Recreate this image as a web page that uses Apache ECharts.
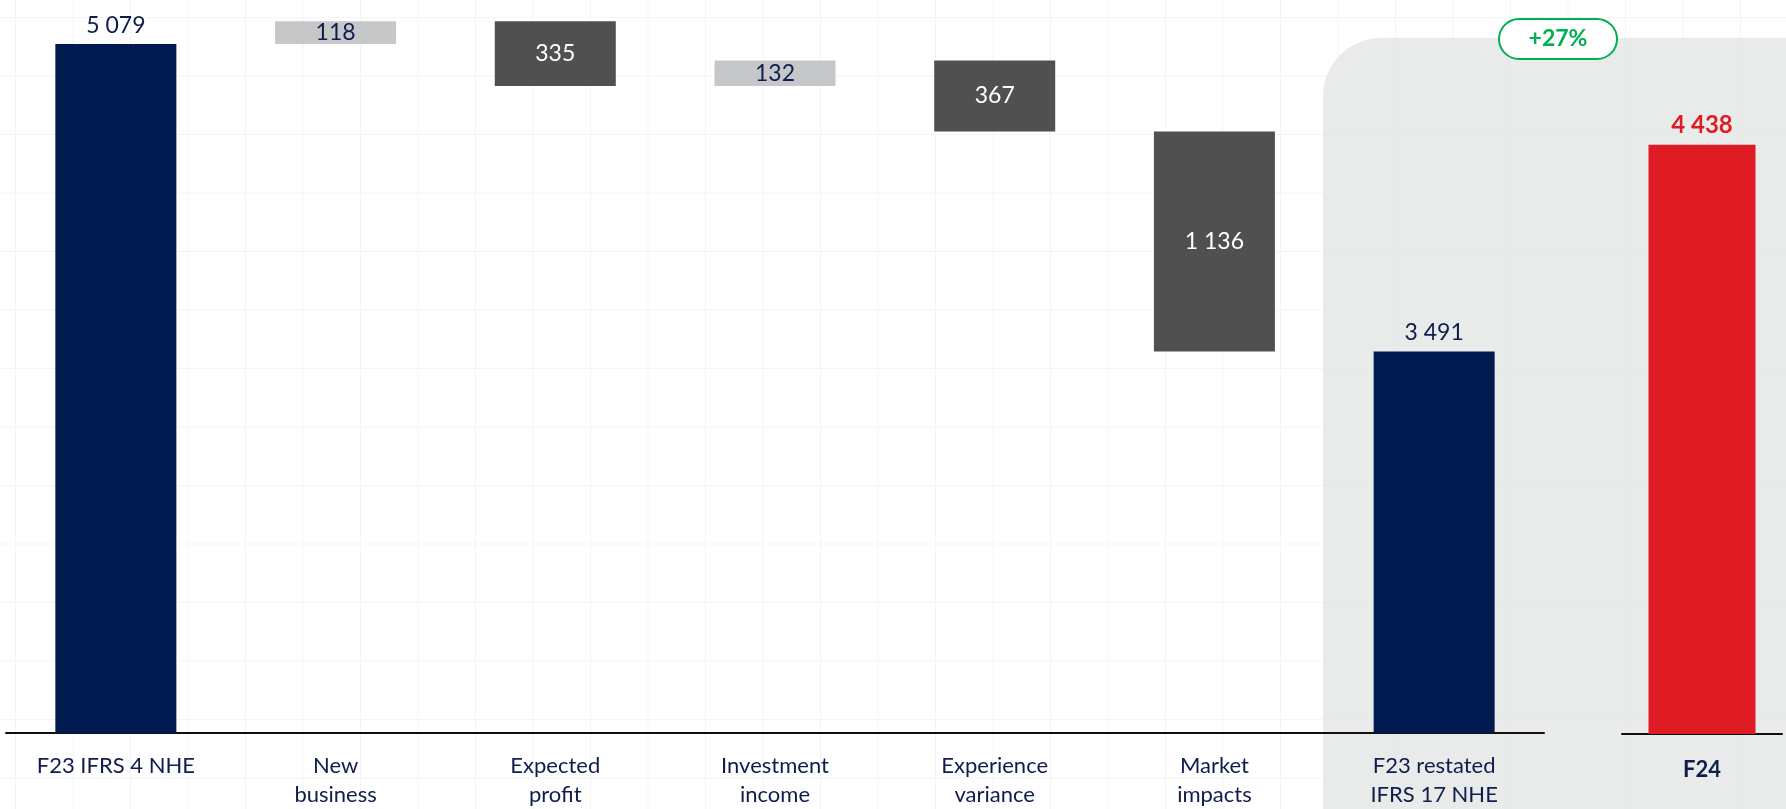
<!DOCTYPE html>
<html>
<head>
<meta charset="utf-8">
<script src="https://cdn.jsdelivr.net/npm/echarts@6/dist/echarts.min.js"></script>
<style>
  html, body { margin: 0; padding: 0; background: #ffffff; }
  #chart {
    width: 1786px; height: 809px;
    background-color: #ffffff;
    background-image:
      linear-gradient(to right, #f3f4f4 1px, transparent 1px),
      linear-gradient(to bottom, #f3f4f4 1px, transparent 1px);
    background-size: 57.5px 58.5px;
    background-position: 15px 17px;
  }
</style>
</head>
<body>
<div id="chart"></div>
<script>
// Bridge from F23 IFRS 4 NHE to F23 restated IFRS 17 NHE, then F24
const bridgeCategories = ['F23 IFRS 4 NHE', 'New\nbusiness', 'Expected\nprofit', 'Investment\nincome', 'Experience\nvariance', 'Market\nimpacts', 'F23 restated\nIFRS 17 NHE'];
const openingValue = 5079;
const stepValues = [118, -335, 132, -367, -1136];
const restatedValue = 3491;
const finalCategory = ['F24'];
const finalValue = 4438;

const NAVY = '#011a4f';
const RED = '#df1c24';
const RISE = '#c6c7c9';
const FALL = '#505050';
const TEXT = '#0e1d4c';
const FONT = 'Lato, "Noto Sans", sans-serif';

const fmt = v => String(Math.round(Math.abs(v))).replace(/\B(?=(\d{3})+(?!\d))/g, ' ');

// Build waterfall pieces: invisible base + visible rise / fall segments
const baseData = ['-'], riseData = ['-'], fallData = ['-'];
let running = openingValue;
stepValues.forEach(s => {
  const next = running + s;
  baseData.push(Math.min(running, next));
  riseData.push(s > 0 ? s : '-');
  fallData.push(s < 0 ? -s : '-');
  running = next;
});
baseData.push('-'); riseData.push('-'); fallData.push('-');
const totalData = bridgeCategories.map((c, i) => i === 0 ? openingValue : (i === bridgeCategories.length - 1 ? restatedValue : '-'));
const growthPct = Math.round((finalValue / restatedValue - 1) * 100);

const chart = echarts.init(document.getElementById('chart'), null, { renderer: 'canvas' });

const valueLabel = (color, pos, extra) => Object.assign({
  show: true, position: pos, color: color, fontFamily: FONT, fontSize: 23,
  formatter: p => fmt(p.value)
}, extra || {});

chart.setOption({
  animation: false,
  backgroundColor: 'transparent',
  graphic: [
    {
      type: 'rect', z: -10,
      shape: { x: 1323, y: 38, width: 540, height: 840, r: 58 },
      style: { fill: '#e7e9e8', opacity: 0.9 }
    },
    {
      type: 'group', z: 20, x: 1499, y: 19,
      children: [
        { type: 'rect', shape: { x: 0, y: 0, width: 118, height: 40, r: 20 },
          style: { fill: '#ffffff', stroke: '#00b04f', lineWidth: 2 } },
        { type: 'text', x: 59, y: 20,
          style: { text: '+' + growthPct + '%', fill: '#00b04f', font: 'bold 23px ' + FONT,
                   align: 'center', verticalAlign: 'middle' } }
      ]
    }
  ],
  grid: [
    { left: 6, right: 242, top: 9, bottom: 75 },
    { left: 1622, right: 4, top: 9, bottom: 75 }
  ],
  xAxis: [
    {
      type: 'category', gridIndex: 0, data: bridgeCategories,
      axisLine: { lineStyle: { color: '#111111', width: 2 } },
      axisTick: { show: false },
      axisLabel: { color: TEXT, fontFamily: FONT, fontSize: 22, lineHeight: 29, margin: 18, interval: 0 }
    },
    {
      type: 'category', gridIndex: 1, data: finalCategory,
      axisLine: { lineStyle: { color: '#111111', width: 2 } },
      axisTick: { show: false },
      axisLabel: { color: TEXT, fontFamily: FONT, fontSize: 22, fontWeight: 'bold', margin: 25 }
    }
  ],
  yAxis: [
    { type: 'value', gridIndex: 0, min: 1520, max: 5260, show: false, splitLine: { show: false } },
    { type: 'value', gridIndex: 1, min: 0, max: 5460, show: false, splitLine: { show: false } }
  ],
  series: [
    {
      name: 'Total', type: 'bar', xAxisIndex: 0, yAxisIndex: 0, barWidth: 121, barGap: '-100%',
      data: totalData, itemStyle: { color: NAVY },
      label: valueLabel(TEXT, 'top', { distance: 7 })
    },
    {
      name: 'Base', type: 'bar', stack: 'bridge', xAxisIndex: 0, yAxisIndex: 0, barWidth: 121,
      data: baseData, itemStyle: { color: 'rgba(0,0,0,0)' }, silent: true
    },
    {
      name: 'Increase', type: 'bar', stack: 'bridge', xAxisIndex: 0, yAxisIndex: 0, barWidth: 121,
      data: riseData, itemStyle: { color: RISE },
      label: valueLabel(TEXT, 'inside')
    },
    {
      name: 'Decrease', type: 'bar', stack: 'bridge', xAxisIndex: 0, yAxisIndex: 0, barWidth: 121,
      data: fallData, itemStyle: { color: FALL },
      label: valueLabel('#ffffff', 'inside')
    },
    {
      name: 'F24', type: 'bar', xAxisIndex: 1, yAxisIndex: 1, barWidth: 107,
      data: [finalValue], itemStyle: { color: RED },
      label: valueLabel(RED, 'top', { fontWeight: 'bold', fontSize: 24, distance: 7 })
    }
  ]
});
</script>
</body>
</html>
